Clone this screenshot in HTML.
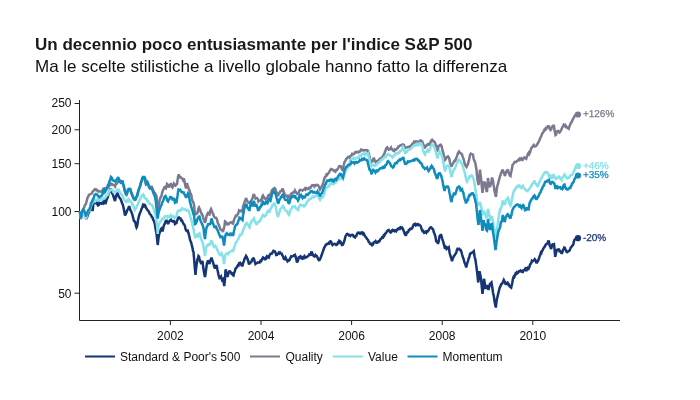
<!DOCTYPE html>
<html><head><meta charset="utf-8"><style>
html,body{margin:0;padding:0;background:#fff;}
svg{display:block}
text{font-family:"Liberation Sans",Arial,sans-serif;}
</style></head><body>
<svg width="700" height="400" viewBox="0 0 700 400">
<rect width="700" height="400" fill="#fff"/>
<text x="35" y="50" font-size="17" font-weight="bold" fill="#1a1a1a">Un decennio poco entusiasmante per l'indice S&amp;P 500</text>
<text x="35" y="72" font-size="17" fill="#111">Ma le scelte stilistiche a livello globale hanno fatto la differenza</text>
<g stroke="#222" stroke-width="1" fill="none">
<path d="M79.5,100 V320.5 H620"/>
<path d="M74.5,103.5 H79.5 M74.5,129.8 H79.5 M74.5,163.7 H79.5 M74.5,211.5 H79.5 M74.5,293.2 H79.5"/>
<path d="M170.4,320 V325 M261,320 V325 M351.6,320 V325 M442.2,320 V325 M532.8,320 V325"/>
</g>
<g font-size="12" fill="#111" text-anchor="end">
<text x="71.5" y="107">250</text><text x="71.5" y="133.5">200</text><text x="71.5" y="167.5">150</text><text x="71.5" y="215.5">100</text><text x="71.5" y="297.5">50</text>
</g>
<g font-size="12" fill="#111" text-anchor="middle">
<text x="170.4" y="340">2002</text><text x="261" y="340">2004</text><text x="351.6" y="340">2006</text><text x="442.2" y="340">2008</text><text x="532.8" y="340">2010</text>
</g>
<path d="M80.0,211.5 L80.8,219.0 L81.4,215.8 L82.0,214.0 L82.8,213.9 L83.5,212.5 L84.2,214.3 L85.0,215.0 L85.6,216.5 L86.2,219.0 L86.8,217.5 L87.5,216.0 L88.0,214.4 L88.5,213.0 L89.0,212.3 L89.5,211.0 L90.2,209.6 L91.0,207.0 L91.5,205.4 L92.0,205.5 L92.6,211.0 L93.3,204.5 L94.0,202.5 L94.8,201.3 L95.5,202.0 L96.0,202.9 L96.5,202.5 L97.2,203.9 L98.0,205.5 L98.7,205.2 L99.3,202.8 L100.0,203.0 L100.7,203.1 L101.3,203.8 L102.0,203.5 L102.7,202.3 L103.3,203.1 L104.0,201.5 L104.7,202.5 L105.3,200.9 L106.0,202.0 L106.8,199.1 L107.5,198.0 L108.2,195.3 L109.0,192.5 L109.8,191.4 L110.5,188.5 L111.2,190.5 L112.0,193.0 L112.8,194.2 L113.5,196.5 L114.2,198.6 L115.0,201.0 L115.8,197.1 L116.5,195.0 L117.0,193.7 L117.5,193.5 L118.2,195.1 L119.0,197.0 L119.8,198.0 L120.5,199.0 L121.2,200.5 L122.0,203.0 L122.8,204.7 L123.5,207.5 L124.2,210.9 L125.0,215.5 L125.8,213.9 L126.5,212.5 L127.2,210.3 L128.0,209.0 L128.8,207.0 L129.5,207.0 L130.2,209.7 L131.0,211.0 L131.8,213.1 L132.5,215.0 L133.2,218.3 L134.0,221.0 L134.8,221.4 L135.5,223.0 L136.0,226.2 L136.5,227.5 L137.0,226.5 L137.5,224.0 L138.0,220.2 L138.5,218.0 L139.2,215.2 L140.0,213.0 L140.8,211.4 L141.5,209.0 L142.2,207.4 L143.0,205.0 L143.7,205.9 L144.3,204.8 L145.0,205.0 L145.8,207.4 L146.5,208.5 L147.2,209.8 L148.0,210.5 L148.8,211.6 L149.5,213.5 L150.2,214.4 L151.0,215.0 L151.8,217.0 L152.5,217.5 L153.2,219.9 L154.0,221.0 L154.5,223.0 L155.0,225.0 L155.5,228.2 L156.0,231.0 L156.5,233.6 L157.0,238.0 L157.7,245.0 L158.5,238.0 L159.0,235.0 L159.5,233.0 L160.0,232.1 L160.5,230.0 L161.0,229.1 L161.5,228.5 L162.0,229.3 L162.5,231.5 L163.0,229.3 L163.5,227.0 L164.0,225.0 L164.8,223.7 L165.5,221.5 L166.0,221.1 L166.5,220.0 L167.2,221.7 L168.0,224.0 L168.8,222.4 L169.5,221.0 L170.2,220.3 L171.0,219.5 L171.8,221.1 L172.5,221.5 L173.2,221.3 L174.0,221.0 L174.5,222.3 L175.0,224.0 L175.8,223.5 L176.5,223.0 L177.0,220.6 L177.5,220.0 L178.2,217.8 L179.0,217.5 L179.8,218.4 L180.5,218.5 L181.2,220.5 L182.0,220.5 L182.8,222.4 L183.5,224.0 L184.0,224.3 L184.5,225.0 L185.0,226.3 L185.5,229.0 L186.0,230.0 L186.5,231.0 L187.0,231.2 L187.5,229.5 L188.0,231.8 L188.5,233.0 L189.0,235.1 L189.5,237.0 L190.0,239.7 L190.5,241.0 L191.0,242.0 L191.5,244.0 L192.0,246.0 L192.5,248.0 L193.0,250.9 L193.5,252.0 L194.2,259.8 L194.8,267.3 L195.5,275.0 L196.0,269.5 L196.5,265.0 L197.0,262.1 L197.5,259.0 L198.0,258.4 L198.5,256.0 L199.0,256.5 L199.5,259.0 L200.2,261.6 L201.0,263.0 L201.8,262.6 L202.5,261.0 L203.0,265.8 L203.5,269.0 L204.2,273.5 L205.0,277.0 L205.5,274.1 L206.0,270.0 L206.5,266.5 L207.0,263.0 L207.5,261.9 L208.0,260.5 L208.8,262.1 L209.5,264.0 L210.0,261.1 L210.5,260.0 L211.0,259.5 L211.5,257.5 L212.0,259.4 L212.5,261.0 L213.2,262.9 L214.0,266.0 L214.5,267.3 L215.0,268.5 L215.8,266.7 L216.5,265.0 L217.0,267.2 L217.5,270.0 L218.0,272.2 L218.5,275.0 L219.0,276.6 L219.5,278.0 L220.2,277.5 L221.0,276.5 L221.5,278.5 L222.0,280.0 L222.5,279.4 L223.0,279.0 L223.6,281.6 L224.2,286.0 L225.0,279.0 L225.5,269.5 L226.0,270.5 L226.5,272.5 L227.0,274.1 L227.5,277.0 L228.0,275.2 L228.5,273.0 L229.0,272.5 L229.5,270.5 L230.2,272.1 L231.0,272.5 L231.5,273.6 L232.0,273.5 L232.8,275.1 L233.5,275.5 L234.0,273.3 L234.5,272.0 L235.0,270.9 L235.5,268.5 L236.2,268.1 L237.0,267.0 L237.8,265.4 L238.5,265.5 L239.0,263.3 L239.5,263.0 L240.2,262.8 L241.0,264.5 L241.8,265.5 L242.5,265.5 L243.2,262.7 L244.0,261.0 L244.5,258.7 L245.0,258.0 L245.5,257.2 L246.0,256.0 L246.8,257.2 L247.5,259.0 L248.2,260.9 L249.0,264.5 L249.5,263.1 L250.0,263.0 L250.8,262.3 L251.5,261.5 L252.2,259.3 L253.0,258.5 L253.5,258.3 L254.0,259.0 L254.8,261.9 L255.5,264.0 L256.2,263.4 L257.0,263.0 L257.8,262.4 L258.5,262.5 L259.0,262.4 L259.5,262.5 L260.4,260.9 L261.2,261.2 L262.1,259.1 L263.0,257.5 L263.7,258.2 L264.3,258.5 L265.0,260.0 L265.7,258.0 L266.3,258.3 L267.0,256.2 L267.9,256.9 L268.8,257.5 L269.6,255.0 L270.5,253.8 L271.2,253.5 L271.8,253.6 L272.5,252.5 L273.4,250.9 L274.2,251.2 L274.9,251.5 L275.6,253.0 L276.2,255.0 L277.1,254.8 L278.0,253.8 L278.7,252.7 L279.3,253.3 L280.0,252.5 L280.9,253.5 L281.8,253.8 L282.4,255.5 L283.1,256.5 L283.8,258.8 L284.6,259.1 L285.5,257.5 L286.2,259.3 L286.8,260.0 L287.5,261.2 L288.2,260.3 L288.8,260.7 L289.5,260.0 L290.4,257.9 L291.2,256.2 L292.1,256.4 L293.0,256.2 L293.7,255.5 L294.3,255.7 L295.0,255.0 L295.7,256.6 L296.3,259.6 L297.0,262.5 L297.9,260.9 L298.8,257.5 L299.6,257.6 L300.5,256.2 L301.2,256.7 L301.8,258.6 L302.5,258.8 L303.2,257.5 L303.8,258.0 L304.5,256.2 L305.4,257.4 L306.2,257.5 L307.1,256.7 L308.0,256.2 L308.7,255.3 L309.3,254.4 L310.0,255.0 L310.7,254.9 L311.3,252.4 L312.0,252.5 L312.9,255.0 L313.8,256.2 L314.6,256.5 L315.5,255.0 L316.2,256.0 L316.8,256.0 L317.5,257.5 L318.2,259.1 L318.8,260.1 L319.5,260.0 L320.4,258.5 L321.2,256.2 L322.1,253.8 L323.0,251.2 L323.7,249.3 L324.3,247.6 L325.0,246.2 L325.7,244.8 L326.3,244.9 L327.0,243.8 L327.9,243.6 L328.8,243.8 L329.6,241.9 L330.5,241.2 L331.2,241.7 L331.8,244.1 L332.5,245.0 L333.2,244.2 L333.8,244.2 L334.5,243.8 L335.4,244.0 L336.2,245.0 L337.1,244.5 L338.0,242.5 L338.7,242.9 L339.3,240.7 L340.0,241.2 L340.7,241.9 L341.3,243.4 L342.0,245.0 L342.9,244.7 L343.8,242.5 L344.6,239.9 L345.5,236.2 L346.2,235.1 L346.8,234.0 L347.5,233.8 L348.2,234.5 L348.8,235.3 L349.5,235.0 L350.4,235.9 L351.2,235.0 L352.1,234.7 L353.0,235.0 L353.7,236.6 L354.3,237.0 L355.0,237.5 L355.7,236.2 L356.3,236.0 L357.0,233.8 L357.9,232.6 L358.8,232.5 L359.6,233.6 L360.5,233.8 L361.2,232.5 L361.8,232.3 L362.5,232.5 L363.2,234.2 L363.8,233.6 L364.5,235.0 L365.4,236.8 L366.2,237.5 L367.1,239.0 L368.0,240.0 L368.7,241.9 L369.3,242.2 L370.0,243.8 L370.9,244.1 L371.8,245.0 L372.4,243.7 L373.1,244.1 L373.8,242.5 L374.6,242.1 L375.5,241.2 L376.2,242.6 L376.8,242.9 L377.5,242.5 L378.2,241.4 L378.8,241.8 L379.5,241.2 L380.4,239.2 L381.2,238.8 L382.1,237.2 L383.0,237.5 L383.7,235.4 L384.3,235.7 L385.0,233.8 L385.7,233.5 L386.3,232.7 L387.0,231.2 L387.9,230.3 L388.8,230.0 L389.6,231.5 L390.5,232.5 L391.2,232.2 L391.8,230.6 L392.5,230.0 L393.2,230.6 L393.8,230.3 L394.5,231.2 L395.4,230.4 L396.2,231.2 L397.1,229.5 L398.0,228.8 L398.7,229.1 L399.3,228.0 L400.0,227.5 L400.7,228.4 L401.3,227.4 L402.0,227.5 L402.9,228.9 L403.8,231.2 L404.6,233.7 L405.5,235.0 L406.2,234.8 L406.8,232.4 L407.5,232.5 L408.2,232.0 L408.8,230.0 L409.5,230.0 L410.4,228.6 L411.2,228.8 L412.1,228.3 L413.0,226.2 L413.7,224.5 L414.3,224.1 L415.0,223.8 L415.7,225.1 L416.3,224.4 L417.0,225.0 L417.9,224.2 L418.8,225.0 L419.4,224.8 L420.1,225.3 L420.8,226.2 L421.6,229.2 L422.5,231.2 L423.3,230.9 L424.2,232.9 L425.0,232.5 L425.7,231.8 L426.3,232.6 L427.0,231.2 L427.9,231.4 L428.8,230.0 L429.6,228.3 L430.5,227.5 L431.2,227.4 L431.8,228.3 L432.5,228.8 L433.2,229.6 L433.8,232.4 L434.5,233.8 L435.4,236.6 L436.2,241.2 L437.1,241.5 L438.0,243.8 L438.8,241.0 L439.5,236.2 L440.4,235.2 L441.2,235.0 L442.1,238.3 L443.0,241.2 L443.7,243.6 L444.3,245.9 L445.0,248.8 L445.7,247.5 L446.3,248.7 L447.0,247.5 L447.9,248.4 L448.8,247.5 L449.6,252.8 L450.5,256.2 L451.2,258.0 L452.0,261.2 L452.9,258.2 L453.8,256.2 L454.6,255.2 L455.5,253.8 L456.2,253.0 L456.8,250.5 L457.5,248.8 L458.4,249.1 L459.2,248.8 L459.9,249.9 L460.6,249.9 L461.2,251.2 L462.1,254.5 L463.0,257.5 L463.8,259.6 L464.5,262.5 L465.4,264.5 L466.2,267.5 L467.1,263.5 L468.0,261.2 L468.7,258.3 L469.3,257.2 L470.0,253.8 L470.7,253.2 L471.3,253.2 L472.0,252.5 L472.9,252.2 L473.8,251.2 L474.6,256.5 L475.5,260.0 L476.2,265.4 L477.0,271.2 L477.6,276.5 L478.2,282.5 L478.9,276.5 L479.5,271.2 L480.2,274.6 L481.0,278.8 L481.8,286.9 L482.5,293.8 L483.2,287.0 L484.0,278.8 L484.8,283.4 L485.5,288.8 L486.2,286.5 L487.0,285.0 L487.8,287.6 L488.5,290.0 L489.2,287.0 L490.0,283.8 L490.8,283.3 L491.5,282.5 L492.2,287.0 L493.0,292.5 L493.8,295.9 L494.5,301.2 L495.1,303.9 L495.8,307.5 L496.4,302.3 L497.0,298.8 L497.9,295.1 L498.8,291.2 L499.6,287.9 L500.5,286.2 L501.2,284.2 L502.0,283.8 L502.9,282.1 L503.8,280.0 L504.6,281.5 L505.5,283.8 L506.2,283.9 L506.8,282.9 L507.5,282.5 L508.2,284.5 L508.8,284.3 L509.5,286.2 L510.4,286.9 L511.2,287.5 L512.1,283.7 L513.0,278.8 L513.7,276.7 L514.3,277.1 L515.0,275.0 L515.6,273.5 L516.2,273.8 L516.8,272.4 L517.6,273.1 L518.3,272.4 L519.1,271.1 L519.8,271.2 L520.6,270.6 L521.4,271.6 L522.2,271.8 L522.8,272.0 L523.4,270.2 L524.0,270.0 L524.8,270.2 L525.6,268.1 L526.4,268.2 L527.0,269.6 L527.6,268.5 L528.2,270.0 L528.8,267.8 L529.4,267.2 L530.0,264.6 L530.6,264.0 L531.2,263.0 L531.8,261.0 L532.4,261.5 L533.0,261.1 L533.6,260.4 L534.2,260.2 L534.8,259.2 L535.4,260.0 L536.0,261.9 L536.6,263.4 L537.2,261.5 L537.8,261.4 L538.4,259.8 L539.0,258.5 L539.6,256.1 L540.2,255.0 L540.8,252.7 L541.4,253.1 L542.0,250.8 L542.6,250.4 L543.2,248.9 L543.8,247.8 L544.4,246.9 L545.0,246.5 L545.6,244.8 L546.2,244.3 L546.8,243.8 L547.4,243.6 L548.0,241.8 L548.6,240.6 L549.2,242.8 L549.8,246.0 L550.4,246.5 L551.0,249.0 L551.6,247.2 L552.2,244.8 L552.8,244.4 L553.4,244.5 L554.0,244.2 L554.6,249.6 L555.2,256.8 L555.8,253.8 L556.4,251.4 L557.0,250.1 L557.6,249.5 L558.2,249.6 L558.8,249.5 L559.4,251.1 L560.0,250.8 L560.6,251.6 L561.2,252.6 L561.8,253.8 L562.4,252.2 L563.0,250.2 L563.6,248.9 L564.2,247.6 L564.8,247.8 L565.4,249.3 L566.0,250.6 L566.6,252.0 L567.2,252.1 L567.8,251.5 L568.4,251.4 L569.0,251.0 L569.6,250.3 L570.2,249.0 L570.8,247.5 L571.4,247.0 L572.0,246.0 L572.6,245.4 L573.2,244.8 L573.8,241.9 L574.4,240.0 L575.0,239.1 L575.6,238.8 L576.2,238.0 L577.1,238.8 L578.0,238.0" fill="none" stroke="#163574" stroke-width="2.5" stroke-linejoin="miter" stroke-miterlimit="2.5" stroke-linecap="butt"/>
<path d="M80.0,211.5 L80.5,215.4 L81.0,217.5 L81.8,215.4 L82.5,211.5 L83.2,208.9 L84.0,208.0 L84.8,205.4 L85.5,204.5 L86.0,203.7 L86.5,201.5 L87.0,200.0 L87.5,197.5 L88.2,196.8 L88.8,195.1 L89.5,194.5 L90.2,194.4 L90.8,194.0 L91.5,193.5 L92.2,192.8 L92.8,191.2 L93.5,191.0 L94.2,189.9 L95.0,189.0 L95.7,189.1 L96.3,190.1 L97.0,190.0 L97.7,191.3 L98.3,191.6 L99.0,191.0 L99.7,191.4 L100.3,191.6 L101.0,192.0 L101.8,191.0 L102.5,191.0 L103.2,188.8 L104.0,188.5 L104.8,188.3 L105.5,190.0 L106.2,189.4 L107.0,189.0 L107.8,187.6 L108.5,187.0 L109.2,185.8 L110.0,185.0 L110.5,185.0 L111.0,183.5 L111.5,183.8 L112.0,184.0 L112.8,184.6 L113.5,185.0 L114.2,185.2 L115.0,186.5 L115.8,184.3 L116.5,184.0 L117.2,182.7 L118.0,182.0 L118.8,181.0 L119.5,181.5 L120.2,182.3 L121.0,183.0 L121.8,183.0 L122.5,181.0 L123.0,183.6 L123.5,185.5 L124.2,188.1 L125.0,192.0 L125.8,194.3 L126.5,195.0 L127.2,193.1 L128.0,190.0 L128.7,190.0 L129.3,189.8 L130.0,188.5 L130.8,191.5 L131.5,193.5 L132.2,195.7 L132.8,196.5 L133.5,198.5 L134.2,199.8 L134.8,200.1 L135.5,199.5 L136.2,197.3 L137.0,196.5 L137.8,194.0 L138.5,190.5 L139.2,188.9 L140.0,186.5 L140.8,183.9 L141.5,181.5 L142.2,179.6 L143.0,177.5 L143.7,177.8 L144.3,179.0 L145.0,178.5 L145.5,181.5 L146.0,184.5 L146.8,184.2 L147.5,182.5 L148.2,184.5 L149.0,187.0 L149.8,188.0 L150.5,187.5 L151.0,187.5 L151.5,186.0 L152.2,187.6 L152.8,189.5 L153.5,191.0 L154.2,192.8 L155.0,193.0 L155.8,194.9 L156.5,196.0 L157.0,203.0 L157.8,210.0 L158.5,206.0 L159.0,203.5 L159.5,201.0 L160.0,199.0 L160.8,196.9 L161.5,196.0 L162.2,192.6 L163.0,190.0 L163.8,188.9 L164.5,187.0 L165.2,186.8 L166.0,188.0 L166.5,186.8 L167.0,184.0 L167.8,184.8 L168.5,186.5 L169.2,186.6 L170.0,185.0 L170.5,184.1 L171.0,184.0 L171.8,186.7 L172.5,187.5 L173.2,185.9 L174.0,183.5 L174.8,184.5 L175.5,185.5 L176.2,184.8 L177.0,184.0 L177.5,180.8 L178.0,177.0 L178.8,174.5 L179.4,176.2 L180.0,177.5 L180.8,177.4 L181.5,178.0 L182.2,178.4 L183.0,180.0 L183.5,179.3 L184.0,178.5 L184.5,182.1 L185.0,184.0 L185.5,186.5 L186.0,188.5 L186.5,184.9 L187.0,183.0 L187.5,185.4 L188.0,186.5 L188.8,189.0 L189.5,190.5 L190.2,193.1 L191.0,194.0 L191.5,195.9 L192.0,199.0 L192.5,201.0 L193.0,202.0 L193.5,202.6 L194.0,205.0 L194.5,210.3 L195.0,215.0 L195.7,214.0 L196.3,213.5 L197.0,213.5 L197.7,212.3 L198.3,208.7 L199.0,207.5 L199.8,209.3 L200.5,211.0 L201.2,213.2 L202.0,214.0 L202.8,216.0 L203.5,219.0 L204.2,220.4 L205.0,223.0 L205.8,220.3 L206.5,216.0 L207.2,214.3 L208.0,213.0 L208.8,214.2 L209.5,214.5 L210.2,210.8 L211.0,209.0 L211.8,210.7 L212.5,213.0 L213.2,214.1 L214.0,216.5 L214.8,217.6 L215.5,218.0 L216.2,217.9 L217.0,219.5 L217.8,222.9 L218.5,224.5 L219.2,225.6 L220.0,228.5 L220.8,229.7 L221.5,230.0 L222.2,230.0 L223.0,232.0 L223.5,229.5 L224.0,228.0 L224.5,225.4 L225.0,221.5 L225.8,222.1 L226.5,224.0 L227.2,223.6 L228.0,224.5 L228.8,224.1 L229.5,223.0 L230.2,222.5 L231.0,222.5 L231.8,222.1 L232.5,223.5 L233.0,223.7 L233.5,222.0 L234.2,219.1 L235.0,217.5 L235.8,215.8 L236.5,216.0 L237.2,214.7 L238.0,214.0 L238.5,212.5 L239.0,210.5 L239.8,211.2 L240.5,211.0 L241.2,210.5 L242.0,211.5 L242.7,208.7 L243.3,205.6 L244.0,204.0 L244.7,201.9 L245.3,200.5 L246.0,198.0 L246.8,200.0 L247.7,201.8 L248.5,202.5 L249.2,202.7 L249.8,202.6 L250.5,201.5 L251.2,200.9 L252.0,199.5 L252.7,197.6 L253.3,195.3 L254.0,194.0 L254.8,196.6 L255.5,198.5 L256.2,197.9 L257.0,198.0 L257.8,199.0 L258.5,201.5 L259.2,200.9 L260.0,200.5 L260.8,200.7 L261.5,199.5 L262.2,196.8 L263.0,195.5 L263.8,197.2 L264.5,198.5 L265.2,198.5 L266.0,199.0 L266.8,198.3 L267.5,197.5 L268.2,195.5 L269.0,195.0 L269.8,196.4 L270.5,196.0 L271.2,192.5 L272.0,190.0 L272.8,189.5 L273.7,188.5 L274.5,188.0 L275.2,188.5 L276.0,191.0 L276.7,192.8 L277.3,193.6 L278.0,196.0 L278.8,193.6 L279.5,193.0 L280.2,191.4 L280.8,191.0 L281.5,191.0 L282.2,189.4 L283.0,189.5 L283.8,192.0 L284.5,194.0 L285.2,195.0 L286.0,196.0 L286.8,196.5 L287.5,195.0 L288.2,197.1 L289.0,197.5 L289.8,197.2 L290.5,195.0 L291.2,193.5 L292.0,193.0 L292.7,192.7 L293.3,192.2 L294.0,192.5 L294.5,191.7 L295.0,190.5 L295.8,192.0 L296.5,193.0 L297.2,193.9 L298.0,193.5 L298.8,192.4 L299.5,190.5 L300.2,189.8 L301.0,190.0 L301.8,190.1 L302.5,190.5 L303.2,190.1 L304.0,189.5 L304.8,188.5 L305.5,189.5 L306.2,188.3 L307.0,189.0 L307.8,188.8 L308.5,189.0 L309.2,187.7 L310.0,188.0 L310.8,187.4 L311.5,186.0 L312.2,185.2 L313.0,185.5 L313.8,185.2 L314.5,186.5 L315.2,185.4 L316.0,185.5 L316.8,184.7 L317.5,185.0 L318.2,185.4 L319.0,187.0 L319.5,188.3 L320.0,189.5 L320.8,188.2 L321.5,187.0 L322.0,185.6 L322.5,185.0 L323.3,182.6 L324.2,179.1 L325.0,177.0 L325.8,176.6 L326.5,174.5 L327.2,174.9 L328.0,173.5 L328.8,173.0 L329.5,171.5 L330.2,170.1 L331.0,169.0 L331.8,169.3 L332.5,169.5 L333.2,170.4 L334.0,171.0 L334.8,170.4 L335.5,171.5 L336.2,170.6 L337.0,170.0 L337.8,168.8 L338.5,167.5 L339.2,166.1 L340.0,166.0 L340.8,166.2 L341.5,168.0 L342.0,169.6 L342.5,170.0 L343.0,167.7 L343.5,166.0 L344.0,164.0 L344.5,162.0 L345.2,161.3 L346.0,159.0 L346.8,158.5 L347.5,157.5 L348.2,156.8 L349.0,157.0 L349.5,157.7 L350.0,156.5 L350.8,155.7 L351.5,155.5 L352.2,153.8 L353.0,154.0 L353.8,154.1 L354.5,153.5 L355.2,152.2 L356.0,152.5 L356.8,151.9 L357.5,152.0 L358.2,152.4 L359.0,151.5 L359.8,151.6 L360.5,151.0 L361.2,149.5 L362.0,150.0 L362.8,150.2 L363.5,150.5 L364.2,150.1 L365.0,150.0 L365.8,150.2 L366.5,150.5 L367.2,150.2 L368.0,151.0 L368.5,153.2 L369.0,155.0 L369.5,156.4 L370.0,159.5 L370.8,160.3 L371.5,162.0 L372.0,161.2 L372.5,161.0 L373.0,160.6 L373.5,158.5 L374.0,158.4 L374.5,160.0 L375.0,161.5 L375.5,162.0 L376.2,161.1 L377.0,161.5 L377.8,160.9 L378.5,160.0 L379.2,159.3 L380.0,159.0 L380.8,158.2 L381.5,157.5 L382.2,157.3 L383.0,156.0 L383.8,154.5 L384.5,153.5 L385.0,151.5 L385.5,151.0 L386.0,148.7 L386.5,148.0 L387.2,147.4 L388.0,148.5 L388.8,149.7 L389.5,149.5 L390.2,148.8 L391.0,147.5 L391.8,149.4 L392.5,149.5 L393.2,150.6 L394.0,151.0 L394.8,149.5 L395.5,150.0 L396.2,149.6 L397.0,148.5 L397.8,148.1 L398.5,146.5 L399.2,146.4 L400.0,145.5 L400.8,145.2 L401.5,145.0 L402.2,144.5 L403.0,144.5 L403.5,144.7 L404.0,145.0 L404.5,147.1 L405.0,148.0 L405.8,147.3 L406.5,147.5 L407.2,147.3 L408.0,147.0 L408.8,146.7 L409.5,146.5 L410.2,146.9 L411.0,145.5 L411.8,145.1 L412.5,143.5 L413.2,143.6 L414.0,142.0 L414.5,142.7 L415.0,142.0 L415.8,141.3 L416.5,141.5 L417.2,141.5 L418.0,142.5 L418.8,142.0 L419.5,141.5 L420.2,140.5 L421.0,140.5 L421.8,141.1 L422.5,142.0 L423.2,144.4 L424.0,146.0 L424.5,147.6 L425.0,147.5 L425.8,146.4 L426.5,145.0 L427.2,145.1 L428.0,144.0 L428.8,143.9 L429.5,145.5 L430.0,143.5 L430.5,142.0 L431.0,142.0 L431.5,140.0 L432.2,139.8 L433.0,141.0 L433.8,141.3 L434.5,142.0 L435.0,142.4 L435.5,144.5 L436.0,145.7 L436.5,148.5 L437.0,150.3 L437.5,150.5 L438.0,149.2 L438.5,146.0 L439.2,145.8 L440.0,145.0 L440.8,144.8 L441.5,146.0 L442.0,147.8 L442.5,150.5 L443.2,152.7 L444.0,156.0 L444.5,158.3 L445.0,160.0 L445.8,159.1 L446.5,157.5 L447.2,156.9 L448.0,156.5 L448.5,157.3 L449.0,158.0 L449.5,159.5 L450.0,162.5 L450.5,164.3 L451.0,166.0 L451.8,165.9 L452.5,164.0 L453.2,163.3 L454.0,161.5 L454.5,160.9 L455.0,162.0 L455.5,160.3 L456.0,158.5 L456.8,156.9 L457.5,154.5 L458.2,152.5 L459.0,151.5 L459.8,153.0 L460.5,153.0 L461.2,153.7 L462.0,154.5 L462.5,156.4 L463.0,157.5 L463.5,158.8 L464.0,160.5 L464.5,163.2 L465.0,164.0 L465.8,166.1 L466.5,167.0 L467.2,165.6 L468.0,164.0 L468.5,161.5 L469.0,160.5 L469.5,157.6 L470.0,155.0 L470.8,153.6 L471.5,154.0 L472.2,154.4 L473.0,154.5 L473.5,158.0 L474.0,160.0 L474.8,161.4 L475.5,164.0 L476.0,167.0 L476.5,170.0 L477.0,175.0 L477.5,180.0 L478.0,182.3 L478.5,185.0 L479.0,180.4 L479.5,175.0 L480.0,169.5 L480.5,174.6 L481.0,178.0 L481.5,183.4 L482.0,188.0 L482.5,193.0 L483.0,187.2 L483.5,181.5 L484.2,183.2 L485.0,183.0 L485.5,185.7 L486.0,189.0 L486.5,191.0 L487.0,192.0 L487.5,185.3 L488.0,178.0 L488.5,181.5 L489.0,184.0 L489.5,186.2 L490.0,187.0 L490.5,184.9 L491.0,184.0 L491.5,181.0 L492.0,177.5 L492.5,179.1 L493.0,181.0 L493.5,184.3 L494.0,187.0 L494.5,191.0 L495.0,193.0 L495.5,195.3 L496.0,197.0 L496.8,189.0 L497.4,185.5 L498.0,184.0 L498.5,181.9 L499.0,180.0 L499.5,178.4 L500.0,176.0 L500.5,175.3 L501.0,173.0 L501.5,172.3 L502.0,171.0 L502.8,169.5 L503.3,171.9 L503.8,173.0 L504.3,173.5 L504.8,176.0 L505.3,174.9 L505.8,172.0 L506.4,171.7 L507.0,170.5 L507.5,170.2 L508.0,169.5 L508.5,172.3 L509.0,173.5 L509.8,175.5 L510.5,176.0 L511.0,172.7 L511.5,171.0 L512.0,168.6 L512.5,165.0 L513.2,164.5 L514.0,163.0 L514.8,161.9 L515.5,162.0 L516.2,162.0 L517.0,161.0 L517.8,160.7 L518.5,160.0 L519.2,159.0 L519.8,159.8 L520.5,158.8 L521.2,158.4 L521.8,159.8 L522.5,160.0 L523.2,159.0 L523.8,157.8 L524.5,157.5 L525.4,158.3 L526.2,158.8 L527.1,156.2 L528.0,153.8 L528.7,152.7 L529.3,153.9 L530.0,152.5 L530.7,150.0 L531.3,148.2 L532.0,147.5 L532.9,146.2 L533.8,145.0 L534.6,146.3 L535.5,146.2 L536.2,145.7 L536.8,145.1 L537.5,143.8 L538.2,142.5 L538.8,141.6 L539.5,140.0 L540.4,137.8 L541.2,136.2 L542.1,133.9 L543.0,132.5 L543.7,131.7 L544.3,129.9 L545.0,130.0 L545.7,128.3 L546.3,128.8 L547.0,127.5 L547.9,126.2 L548.8,126.2 L549.6,128.6 L550.5,130.0 L551.2,129.3 L551.8,127.3 L552.5,126.2 L553.1,126.0 L553.8,125.0 L554.6,130.6 L555.5,135.0 L556.2,134.5 L556.8,131.8 L557.5,131.2 L558.2,131.0 L558.8,131.8 L559.5,132.5 L560.4,131.2 L561.2,130.0 L562.1,127.7 L563.0,126.2 L563.7,124.9 L564.3,125.5 L565.0,125.0 L565.7,126.8 L566.3,126.4 L567.0,127.5 L567.9,128.2 L568.8,128.8 L569.6,126.0 L570.5,123.8 L571.2,122.4 L571.8,122.0 L572.5,120.0 L573.2,118.4 L573.8,117.8 L574.5,116.2 L575.4,115.0 L576.2,113.8 L577.1,114.2 L578.0,114.5" fill="none" stroke="#7b798f" stroke-width="2.5" stroke-linejoin="miter" stroke-miterlimit="2.5" stroke-linecap="butt"/>
<path d="M80.0,211.5 L80.8,219.0 L81.4,215.7 L82.0,213.5 L82.8,212.8 L83.5,212.0 L84.0,213.0 L84.5,214.5 L85.2,216.7 L86.0,218.5 L86.5,217.3 L87.0,215.5 L87.5,213.1 L88.0,212.5 L88.8,210.5 L89.5,210.5 L90.2,208.9 L91.0,206.0 L91.8,204.0 L92.5,203.0 L93.2,201.5 L94.0,201.0 L94.8,201.5 L95.5,200.0 L96.2,199.8 L96.8,200.3 L97.5,199.5 L98.2,199.6 L98.8,200.1 L99.5,200.0 L100.2,199.0 L100.8,199.6 L101.5,199.0 L102.2,199.6 L102.8,198.7 L103.5,198.5 L104.2,198.6 L104.8,198.2 L105.5,197.5 L106.2,195.6 L107.0,195.5 L107.8,194.8 L108.5,193.0 L109.2,191.9 L110.0,190.5 L110.8,189.6 L111.5,189.5 L112.2,189.6 L113.0,191.5 L113.8,192.5 L114.5,192.0 L115.2,191.4 L116.0,191.0 L116.8,190.7 L117.5,189.5 L118.0,190.0 L118.5,189.0 L119.2,190.9 L120.0,192.0 L120.8,194.1 L121.5,194.5 L122.2,195.3 L123.0,196.5 L123.8,198.9 L124.5,200.0 L125.2,200.9 L126.0,202.0 L126.8,201.9 L127.5,200.0 L128.2,200.9 L128.8,199.5 L129.5,200.5 L130.2,200.5 L131.0,202.0 L131.7,202.4 L132.3,204.9 L133.0,205.0 L133.8,207.4 L134.7,210.0 L135.3,209.3 L136.0,208.0 L136.8,206.1 L137.5,205.0 L138.2,203.3 L139.0,201.5 L139.8,199.8 L140.5,198.5 L141.2,196.7 L142.0,195.5 L142.6,195.2 L143.2,194.5 L143.8,195.8 L144.4,197.6 L145.0,198.0 L145.8,198.9 L146.5,199.0 L147.2,200.9 L148.0,201.0 L148.7,202.5 L149.3,203.6 L150.0,203.5 L150.8,204.6 L151.5,205.0 L152.2,205.3 L153.0,207.0 L153.8,209.7 L154.5,211.0 L155.0,213.9 L155.5,215.0 L156.0,218.8 L156.5,221.0 L157.2,227.0 L157.7,234.0 L158.3,227.0 L159.0,224.0 L159.5,223.1 L160.0,222.0 L160.8,221.4 L161.5,220.0 L162.2,218.9 L163.0,219.0 L163.8,218.4 L164.5,216.5 L165.2,216.4 L166.0,216.0 L166.8,216.3 L167.5,217.5 L168.2,216.1 L169.0,216.5 L169.8,216.7 L170.5,215.5 L171.2,217.2 L172.0,217.0 L172.8,215.9 L173.5,216.5 L174.2,217.6 L175.0,217.5 L175.8,216.6 L176.5,216.0 L177.0,213.3 L177.5,212.0 L178.0,210.8 L178.5,210.5 L179.2,210.8 L180.0,210.0 L180.8,210.5 L181.5,209.5 L182.2,208.3 L183.0,209.0 L183.8,209.5 L184.5,209.5 L185.2,209.1 L186.0,210.5 L186.8,210.7 L187.5,210.0 L188.2,210.4 L189.0,211.5 L189.5,214.0 L190.0,215.0 L190.5,217.7 L191.0,218.5 L191.5,220.5 L192.0,222.5 L192.5,225.7 L193.0,227.0 L193.5,229.1 L194.0,232.0 L194.5,234.2 L195.0,238.0 L195.8,236.7 L196.5,235.0 L197.2,234.6 L198.0,236.0 L198.8,234.1 L199.5,233.5 L200.0,235.1 L200.5,237.0 L201.2,239.2 L202.0,241.0 L202.8,243.1 L203.5,246.5 L204.2,250.3 L205.0,256.0 L205.5,252.7 L206.0,248.0 L206.8,246.1 L207.5,245.0 L208.2,245.2 L209.0,243.5 L209.5,244.8 L210.0,244.5 L210.8,242.3 L211.5,240.5 L212.0,241.9 L212.5,243.5 L213.2,245.3 L214.0,247.0 L214.8,246.8 L215.5,246.0 L216.2,247.7 L217.0,249.0 L217.8,250.9 L218.5,252.5 L219.2,254.0 L220.0,255.0 L220.8,255.1 L221.5,253.5 L222.2,255.0 L223.0,256.5 L223.5,260.1 L224.0,264.0 L224.5,260.7 L225.0,256.5 L225.5,254.7 L226.0,254.0 L226.8,253.4 L227.5,253.5 L228.2,254.0 L229.0,252.5 L229.8,252.0 L230.5,251.5 L231.2,251.1 L232.0,250.5 L232.5,250.3 L233.0,252.0 L233.5,249.8 L234.0,248.0 L234.5,246.7 L235.0,245.0 L235.8,242.5 L236.5,242.0 L237.2,240.7 L238.0,239.0 L238.8,237.8 L239.5,236.0 L240.2,234.6 L241.0,235.0 L241.8,233.8 L242.5,232.0 L243.2,229.9 L244.0,228.0 L244.8,226.6 L245.5,224.5 L246.0,223.5 L246.5,223.0 L247.2,224.2 L248.0,224.5 L248.8,226.5 L249.5,227.5 L250.2,224.3 L251.0,223.0 L251.8,220.6 L252.5,220.0 L253.2,219.6 L254.0,218.5 L254.8,221.4 L255.5,222.5 L256.0,223.3 L256.5,225.0 L257.2,223.4 L258.0,222.0 L258.8,221.9 L259.5,221.5 L260.0,220.4 L260.5,220.0 L261.3,218.1 L262.2,216.3 L263.0,215.0 L263.8,215.5 L264.5,216.5 L265.2,215.9 L266.0,215.0 L266.7,213.3 L267.3,212.1 L268.0,211.0 L268.8,212.0 L269.5,212.0 L270.2,209.3 L271.0,208.5 L271.8,206.9 L272.5,205.0 L273.2,204.7 L274.0,203.5 L274.8,204.4 L275.5,206.0 L276.0,207.9 L276.5,211.0 L277.2,214.6 L278.0,217.0 L278.8,214.0 L279.5,212.0 L280.2,209.6 L281.0,208.5 L281.7,207.5 L282.3,207.2 L283.0,206.0 L283.8,207.0 L284.5,209.5 L285.2,209.9 L286.0,211.0 L286.8,211.2 L287.5,212.0 L288.2,214.2 L289.0,215.0 L289.8,212.4 L290.5,210.0 L291.2,209.5 L292.0,207.5 L292.7,206.5 L293.3,206.5 L294.0,206.5 L294.5,206.8 L295.0,206.5 L295.8,208.3 L296.5,208.5 L297.2,209.2 L298.0,210.0 L298.8,207.5 L299.5,206.0 L300.2,204.7 L301.0,205.0 L301.8,205.3 L302.5,205.5 L303.2,205.4 L304.0,206.5 L304.8,206.1 L305.5,204.5 L306.2,203.9 L307.0,202.0 L307.8,200.6 L308.5,200.5 L309.2,199.3 L310.0,199.0 L310.8,198.9 L311.5,197.5 L312.2,197.3 L313.0,196.5 L313.8,197.4 L314.5,197.0 L315.2,196.2 L316.0,196.0 L316.8,195.0 L317.5,195.5 L318.2,196.1 L319.0,197.5 L319.5,199.3 L320.0,200.0 L320.8,198.5 L321.5,198.0 L322.2,197.2 L323.0,197.0 L323.8,195.1 L324.5,193.5 L325.0,190.0 L325.8,188.8 L326.5,188.0 L327.2,187.1 L328.0,186.5 L328.8,186.6 L329.5,185.0 L330.2,183.8 L331.0,184.0 L331.8,182.5 L332.5,183.0 L333.2,184.1 L334.0,183.5 L334.8,183.3 L335.5,181.5 L336.2,182.0 L337.0,180.5 L337.8,179.6 L338.5,179.0 L339.2,179.2 L340.0,177.5 L340.8,178.4 L341.5,177.5 L342.2,177.7 L343.0,179.0 L343.5,177.5 L344.0,175.0 L344.5,174.2 L345.0,172.0 L345.8,170.8 L346.5,169.0 L347.2,168.3 L348.0,167.5 L348.8,166.3 L349.5,166.0 L350.0,160.5 L350.8,159.7 L351.5,159.5 L352.2,158.7 L353.0,159.0 L353.8,157.9 L354.5,158.5 L355.2,158.7 L356.0,158.5 L356.8,157.6 L357.5,157.5 L358.2,157.9 L359.0,157.0 L359.8,155.3 L360.5,155.5 L361.2,155.6 L362.0,154.0 L362.8,154.1 L363.5,153.5 L364.2,154.3 L365.0,153.5 L365.8,154.3 L366.5,153.5 L367.2,154.3 L368.0,153.5 L368.5,155.9 L369.0,158.0 L369.5,159.5 L370.0,163.0 L370.8,165.0 L371.5,166.0 L372.2,164.6 L373.0,164.5 L373.8,164.8 L374.5,166.0 L375.2,165.8 L376.0,165.0 L376.8,164.5 L377.5,164.0 L378.2,162.8 L379.0,162.0 L379.8,162.1 L380.5,160.5 L381.2,160.2 L382.0,159.5 L382.8,158.7 L383.5,158.5 L384.2,157.3 L385.0,157.0 L385.8,156.7 L386.5,155.0 L387.2,154.5 L388.0,154.0 L388.8,155.1 L389.5,155.0 L390.2,155.2 L391.0,156.0 L391.8,156.1 L392.5,157.5 L393.2,156.6 L394.0,155.5 L394.8,155.4 L395.5,154.0 L396.2,153.1 L397.0,153.5 L397.8,153.6 L398.5,152.5 L399.2,152.6 L400.0,151.0 L400.8,151.1 L401.5,150.0 L402.0,149.6 L402.5,148.0 L403.0,146.8 L403.5,147.5 L404.0,149.8 L404.5,151.5 L405.0,153.0 L405.5,153.0 L406.2,151.3 L407.0,151.5 L407.8,150.3 L408.5,150.0 L409.2,149.3 L410.0,149.5 L410.8,148.8 L411.5,148.0 L412.2,147.1 L413.0,146.5 L413.8,145.7 L414.5,145.0 L415.0,145.0 L415.8,145.6 L416.5,145.0 L417.2,144.0 L418.0,145.0 L418.8,143.9 L419.5,144.5 L420.2,143.3 L421.0,143.5 L421.5,143.7 L422.0,145.5 L422.5,146.6 L423.0,149.5 L423.5,151.7 L424.0,152.0 L424.5,154.0 L425.0,154.5 L425.5,152.4 L426.0,152.0 L426.8,151.0 L427.5,150.0 L428.0,150.9 L428.5,152.5 L429.2,150.4 L430.0,149.0 L430.5,147.2 L431.0,146.0 L431.5,145.5 L432.0,144.5 L432.8,145.4 L433.5,146.0 L434.0,146.5 L434.5,147.5 L435.0,148.6 L435.5,151.0 L436.0,152.7 L436.5,155.0 L437.0,156.0 L437.5,158.5 L438.0,156.1 L438.5,153.5 L439.0,152.9 L439.5,151.5 L440.2,152.8 L441.0,154.5 L441.5,154.7 L442.0,156.5 L442.5,158.1 L443.0,161.0 L443.5,163.2 L444.0,166.0 L444.5,169.0 L445.0,171.5 L445.5,169.8 L446.0,167.0 L446.5,166.3 L447.0,166.0 L447.8,165.9 L448.5,164.5 L449.0,166.5 L449.5,168.0 L450.0,170.1 L450.5,172.5 L451.0,174.5 L451.5,177.0 L452.0,175.2 L452.5,173.5 L453.0,172.2 L453.5,170.0 L454.0,169.3 L454.5,169.0 L455.2,167.6 L456.0,165.5 L456.8,163.7 L457.5,162.0 L458.2,160.2 L459.0,159.5 L459.8,160.6 L460.5,161.5 L461.2,163.1 L462.0,164.0 L462.5,164.6 L463.0,167.0 L463.5,168.6 L464.0,170.5 L464.5,171.9 L465.0,173.5 L465.5,176.5 L466.0,178.0 L466.5,180.6 L467.0,181.5 L467.5,180.0 L468.0,179.0 L468.8,178.5 L469.5,176.5 L470.2,176.6 L471.0,175.5 L471.8,175.5 L472.5,176.5 L473.0,177.7 L473.5,179.0 L474.0,180.5 L474.5,183.5 L475.0,187.4 L475.5,190.0 L476.0,192.8 L476.5,195.0 L477.0,201.5 L477.5,204.0 L478.0,205.0 L478.5,204.8 L479.0,203.5 L479.5,203.1 L480.0,202.0 L480.5,204.5 L481.0,206.0 L481.5,208.6 L482.0,211.0 L482.5,211.7 L483.0,214.0 L483.5,213.7 L484.0,213.0 L484.5,212.3 L485.0,213.5 L485.5,214.8 L486.0,217.5 L486.5,217.5 L487.0,216.5 L487.5,211.8 L488.0,209.0 L488.5,210.7 L489.0,214.0 L489.5,215.7 L490.0,219.0 L490.5,219.3 L491.0,218.0 L491.5,216.9 L492.0,217.0 L492.5,218.5 L493.0,222.0 L493.5,225.7 L494.0,228.0 L494.5,229.7 L495.0,233.0 L495.7,237.5 L496.4,233.0 L497.0,228.0 L497.5,225.7 L498.0,222.0 L498.5,218.8 L499.0,215.0 L499.5,212.9 L500.0,209.5 L500.5,209.7 L501.0,208.0 L501.5,206.7 L502.0,205.0 L502.8,200.5 L503.3,202.6 L503.8,203.5 L504.3,203.3 L504.8,205.0 L505.3,203.3 L505.8,200.5 L506.4,199.8 L507.0,199.0 L507.5,198.9 L508.0,198.0 L508.5,199.2 L509.0,202.0 L509.8,204.2 L510.5,205.5 L511.0,204.4 L511.5,201.5 L512.0,198.4 L512.5,197.0 L513.0,194.1 L513.5,192.0 L514.2,190.6 L515.0,189.0 L515.8,188.7 L516.5,187.0 L517.2,186.2 L518.0,186.5 L518.8,185.4 L519.5,185.5 L520.0,187.0 L520.8,187.0 L521.5,188.0 L522.2,187.2 L523.0,186.0 L523.8,187.8 L524.5,188.5 L525.2,189.3 L526.0,190.5 L526.8,190.5 L527.5,191.0 L528.2,190.0 L529.0,189.5 L529.8,188.0 L530.5,187.0 L531.2,185.8 L532.0,185.0 L532.8,182.9 L533.5,182.5 L534.0,181.5 L534.5,180.5 L535.0,182.9 L535.5,183.5 L536.2,184.3 L537.0,185.5 L537.5,186.2 L538.0,186.0 L538.8,183.3 L539.5,182.0 L540.2,180.6 L541.0,178.5 L541.8,177.8 L542.5,176.0 L543.2,175.1 L544.0,173.5 L544.8,172.8 L545.5,172.0 L546.2,172.0 L547.0,172.0 L547.8,173.5 L548.5,174.5 L549.0,176.8 L549.5,177.5 L550.0,175.8 L550.5,175.5 L551.2,176.2 L552.0,178.5 L552.8,176.7 L553.5,174.0 L554.0,176.1 L554.5,176.5 L555.2,177.8 L556.0,179.0 L556.8,178.1 L557.5,177.5 L558.2,177.4 L559.0,176.5 L559.5,176.9 L560.0,178.5 L560.8,178.8 L561.5,180.0 L562.2,177.9 L563.0,177.0 L563.8,175.9 L564.5,174.5 L565.0,175.1 L565.5,176.5 L566.2,177.0 L567.0,178.5 L567.8,178.4 L568.5,177.5 L569.2,177.7 L570.0,176.0 L570.8,175.1 L571.5,175.0 L572.2,174.7 L573.0,173.5 L573.5,172.1 L574.0,171.0 L574.5,170.2 L575.0,168.0 L575.8,167.4 L576.5,166.5 L577.2,165.8 L578.0,166.0" fill="none" stroke="#86e2e9" stroke-width="2.5" stroke-linejoin="miter" stroke-miterlimit="2.5" stroke-linecap="butt"/>
<path d="M80.0,211.5 L80.8,218.5 L81.4,214.7 L82.0,212.0 L82.8,210.2 L83.5,210.0 L84.2,211.0 L85.0,212.5 L85.5,213.8 L86.0,216.5 L86.5,214.1 L87.0,213.5 L87.8,211.6 L88.5,210.0 L89.2,209.6 L90.0,207.5 L90.5,205.9 L91.0,203.0 L91.8,202.3 L92.5,200.5 L93.0,198.9 L93.5,198.5 L94.0,196.8 L94.5,195.0 L95.2,194.4 L95.8,194.0 L96.5,194.5 L97.2,194.5 L97.8,195.6 L98.5,197.0 L99.2,197.5 L99.8,197.0 L100.5,196.0 L101.2,196.1 L101.8,195.6 L102.5,194.5 L103.2,191.6 L104.0,190.0 L104.5,190.6 L105.0,192.0 L105.8,190.5 L106.5,188.5 L107.2,187.2 L108.0,185.0 L108.8,183.7 L109.5,181.0 L110.2,179.8 L111.0,177.0 L111.8,177.7 L112.5,180.0 L113.2,180.5 L114.0,180.5 L114.8,181.3 L115.5,181.5 L116.2,180.3 L117.0,179.0 L117.8,177.9 L118.5,178.0 L119.0,179.4 L119.5,181.0 L120.2,180.9 L121.0,182.5 L121.8,182.4 L122.5,180.5 L123.0,183.5 L123.5,185.0 L124.2,188.3 L125.0,191.5 L125.8,192.6 L126.5,194.5 L127.2,192.8 L128.0,189.5 L128.7,189.1 L129.3,189.3 L130.0,188.0 L130.8,191.2 L131.5,193.0 L132.2,194.7 L132.8,196.2 L133.5,198.0 L134.2,198.5 L134.8,198.5 L135.5,199.0 L136.2,196.8 L137.0,196.0 L137.8,192.6 L138.5,190.0 L139.2,188.6 L140.0,186.0 L140.8,182.6 L141.5,181.0 L142.2,178.1 L143.0,177.0 L143.7,177.6 L144.3,177.2 L145.0,178.0 L145.5,181.1 L146.0,184.0 L146.8,182.9 L147.5,182.0 L148.2,183.9 L149.0,186.5 L149.8,188.5 L150.5,188.5 L151.2,188.4 L152.0,189.5 L152.8,191.3 L153.5,193.5 L154.2,194.7 L155.0,197.0 L155.8,201.0 L156.5,208.0 L157.2,214.0 L157.7,218.5 L158.3,214.0 L159.0,211.0 L159.5,209.8 L160.0,208.0 L160.8,206.1 L161.5,205.0 L162.2,202.7 L163.0,201.0 L163.5,200.0 L164.0,198.0 L164.8,196.6 L165.5,196.0 L166.0,197.1 L166.5,198.0 L167.2,200.6 L168.0,201.5 L168.8,199.5 L169.5,199.0 L170.2,197.1 L171.0,197.0 L171.8,197.7 L172.5,199.5 L173.2,199.3 L174.0,198.0 L174.5,200.5 L175.0,202.5 L175.8,201.7 L176.5,202.0 L177.0,198.7 L177.5,196.0 L178.0,192.1 L178.5,189.5 L179.0,189.7 L179.5,190.0 L180.2,189.8 L181.0,191.5 L181.8,192.1 L182.5,192.0 L183.0,192.5 L183.5,191.5 L184.0,193.7 L184.5,194.0 L185.2,196.0 L186.0,197.0 L186.8,196.7 L187.5,194.5 L188.0,193.3 L188.5,194.0 L189.0,196.1 L189.5,199.0 L190.0,202.2 L190.5,203.5 L191.0,206.1 L191.5,207.5 L192.2,209.6 L193.0,212.0 L193.5,214.4 L194.0,215.0 L194.5,219.7 L195.0,224.0 L195.8,223.6 L196.5,222.0 L197.2,219.6 L198.0,218.0 L198.8,216.6 L199.5,216.5 L200.0,218.6 L200.5,221.0 L201.2,221.8 L202.0,224.0 L202.8,225.8 L203.5,228.0 L204.2,234.4 L205.0,239.0 L205.5,234.2 L206.0,230.0 L206.8,227.0 L207.5,226.0 L208.2,224.1 L209.0,224.0 L209.5,223.8 L210.0,225.0 L210.8,222.3 L211.5,218.5 L212.2,220.7 L213.0,223.5 L213.8,225.3 L214.5,228.0 L215.2,226.4 L216.0,226.5 L216.8,229.2 L217.5,230.0 L218.2,231.8 L219.0,234.0 L219.8,235.4 L220.5,238.0 L221.2,236.4 L222.0,236.5 L222.5,236.9 L223.0,239.0 L223.5,241.6 L224.0,245.5 L224.5,242.1 L225.0,238.0 L225.5,235.3 L226.0,234.0 L226.8,233.3 L227.5,234.5 L228.2,234.7 L229.0,235.0 L229.8,233.7 L230.5,233.5 L231.2,234.7 L232.0,234.0 L232.5,234.2 L233.0,236.0 L233.5,233.6 L234.0,231.0 L234.5,229.3 L235.0,226.5 L235.8,225.3 L236.5,224.5 L237.2,224.2 L238.0,222.0 L238.8,219.7 L239.5,217.5 L240.2,217.7 L241.0,219.0 L241.8,219.3 L242.5,220.0 L243.0,215.6 L243.5,213.0 L244.2,209.3 L245.0,206.0 L245.8,204.7 L246.5,204.5 L247.2,207.3 L248.0,208.5 L248.8,209.9 L249.5,210.0 L250.2,206.2 L251.0,202.5 L251.8,203.6 L252.5,206.5 L253.2,203.3 L254.0,201.0 L254.5,203.2 L255.0,206.5 L255.8,205.2 L256.5,205.0 L257.2,207.0 L258.0,210.0 L258.8,210.0 L259.5,208.5 L260.2,206.8 L261.0,206.5 L261.7,204.1 L262.3,204.4 L263.0,202.0 L263.8,203.1 L264.5,204.0 L265.2,203.7 L266.0,201.5 L266.8,202.1 L267.5,203.0 L268.2,201.3 L269.0,198.0 L269.8,199.6 L270.5,200.5 L271.2,197.8 L272.0,194.0 L272.8,193.0 L273.5,191.0 L274.2,192.0 L275.0,193.0 L275.8,194.4 L276.5,197.5 L277.2,199.9 L278.0,203.5 L278.8,202.2 L279.5,199.5 L280.2,199.0 L281.0,197.0 L281.7,197.0 L282.3,195.0 L283.0,194.5 L283.8,196.8 L284.5,198.5 L285.2,199.8 L286.0,200.0 L286.8,200.0 L287.5,199.5 L288.2,202.4 L289.0,204.0 L289.8,201.3 L290.5,198.5 L291.2,197.8 L292.0,196.5 L292.7,196.7 L293.3,195.7 L294.0,196.0 L294.5,196.6 L295.0,195.5 L295.8,197.9 L296.5,198.5 L297.2,198.6 L298.0,200.5 L298.8,198.9 L299.5,195.5 L300.2,196.2 L301.0,195.0 L301.8,196.8 L302.5,198.0 L303.2,196.8 L304.0,197.5 L304.8,197.5 L305.5,196.0 L306.2,194.5 L307.0,194.5 L307.8,194.9 L308.5,193.5 L309.2,193.3 L310.0,192.5 L310.8,191.1 L311.5,191.5 L312.2,191.3 L313.0,192.5 L313.8,192.5 L314.5,192.0 L315.2,192.6 L316.0,193.0 L316.8,192.7 L317.5,191.5 L318.2,193.4 L319.0,193.5 L319.5,194.4 L320.0,196.5 L320.8,194.0 L321.5,193.5 L322.2,192.8 L323.0,190.5 L323.8,187.8 L324.5,187.0 L325.0,184.5 L325.8,184.0 L326.5,182.0 L327.2,180.5 L328.0,180.5 L328.8,180.9 L329.5,180.0 L330.2,180.3 L331.0,179.5 L331.8,180.5 L332.5,180.0 L333.0,180.9 L333.5,181.5 L334.2,181.0 L335.0,179.0 L335.8,178.7 L336.5,179.5 L337.2,178.3 L338.0,176.5 L338.8,175.2 L339.5,174.5 L340.0,174.5 L340.5,173.0 L341.0,174.8 L341.5,175.5 L342.2,176.4 L343.0,177.5 L343.5,175.3 L344.0,173.0 L344.5,170.3 L345.0,169.5 L345.8,167.3 L346.5,167.0 L347.2,166.2 L348.0,165.0 L348.8,164.7 L349.5,164.5 L350.0,164.5 L350.8,164.0 L351.5,162.0 L352.2,162.5 L353.0,162.5 L353.8,162.3 L354.5,163.5 L355.2,162.5 L356.0,162.0 L356.8,162.8 L357.5,162.5 L358.2,162.0 L359.0,161.5 L359.8,160.0 L360.5,160.5 L361.2,160.4 L362.0,159.0 L362.8,159.7 L363.5,159.0 L364.2,158.4 L365.0,159.5 L365.8,159.8 L366.5,160.0 L367.0,160.3 L367.5,161.0 L368.0,164.1 L368.5,166.0 L369.0,167.4 L369.5,169.5 L370.0,169.5 L370.5,170.5 L371.0,172.0 L371.5,173.5 L372.0,173.2 L372.5,171.0 L373.2,169.9 L374.0,170.5 L374.8,170.7 L375.5,172.5 L376.2,171.7 L377.0,170.5 L377.8,171.0 L378.5,170.0 L379.2,169.3 L380.0,168.5 L380.8,168.1 L381.5,168.0 L382.2,168.2 L383.0,167.0 L383.8,167.8 L384.5,167.5 L385.2,165.4 L386.0,165.0 L386.8,164.0 L387.5,161.5 L388.2,161.1 L389.0,162.0 L389.8,162.9 L390.5,164.5 L391.2,166.2 L392.0,166.5 L392.5,166.8 L393.0,167.5 L393.8,166.6 L394.5,164.5 L395.2,163.1 L396.0,163.0 L396.8,163.2 L397.5,162.0 L398.2,160.6 L399.0,160.5 L399.8,159.5 L400.5,160.0 L401.2,159.2 L402.0,158.5 L402.8,157.9 L403.5,158.0 L404.0,160.1 L404.5,162.0 L405.0,163.8 L405.5,164.0 L406.2,163.9 L407.0,163.0 L407.8,161.5 L408.5,162.0 L409.2,161.4 L410.0,161.5 L410.8,161.3 L411.5,161.0 L412.2,160.5 L413.0,160.0 L413.8,160.7 L414.5,160.5 L415.0,159.0 L415.8,159.0 L416.5,159.0 L417.2,158.9 L418.0,160.5 L418.8,160.5 L419.5,161.5 L420.2,162.9 L421.0,163.0 L421.8,164.2 L422.5,166.0 L423.2,167.3 L424.0,167.5 L424.8,169.0 L425.5,168.5 L426.2,168.3 L427.0,167.5 L427.8,169.6 L428.5,171.0 L429.2,170.2 L430.0,169.0 L430.8,167.1 L431.5,166.0 L432.0,167.3 L432.5,167.0 L433.2,168.2 L434.0,169.5 L434.8,172.8 L435.5,174.5 L436.2,176.4 L437.0,179.0 L437.8,177.2 L438.5,174.0 L439.0,173.8 L439.5,172.5 L440.2,174.0 L441.0,175.0 L441.5,176.9 L442.0,179.0 L442.5,180.8 L443.0,184.0 L443.8,188.0 L444.5,191.0 L445.0,188.7 L445.5,187.0 L446.2,187.1 L447.0,186.5 L447.8,186.5 L448.5,188.0 L449.0,189.7 L449.5,193.0 L450.0,194.8 L450.5,198.0 L451.0,200.6 L451.5,202.0 L452.0,198.9 L452.5,197.0 L453.2,195.6 L454.0,192.5 L454.5,193.5 L455.0,195.0 L455.5,193.7 L456.0,192.0 L456.8,189.5 L457.5,187.5 L458.2,187.2 L459.0,186.5 L459.8,187.4 L460.5,190.0 L461.2,189.3 L462.0,189.0 L462.5,191.4 L463.0,192.0 L463.5,193.4 L464.0,196.0 L464.5,198.3 L465.0,200.0 L465.5,201.4 L466.0,203.5 L466.5,201.9 L467.0,201.0 L467.5,199.3 L468.0,199.5 L468.8,196.3 L469.5,195.0 L470.2,195.4 L471.0,194.0 L471.8,193.9 L472.5,192.5 L473.2,194.4 L474.0,195.0 L474.5,197.6 L475.0,199.0 L475.5,201.9 L476.0,203.0 L476.5,208.0 L477.0,212.3 L477.5,218.0 L478.0,221.7 L478.5,225.0 L479.0,220.0 L479.5,215.0 L480.0,210.0 L480.5,214.1 L481.0,218.0 L481.5,222.9 L482.0,226.0 L482.5,231.0 L483.0,226.0 L483.5,220.0 L484.2,222.9 L485.0,224.0 L485.5,225.7 L486.0,229.0 L486.5,230.1 L487.0,230.5 L487.5,225.1 L488.0,219.0 L488.5,222.5 L489.0,225.0 L489.5,227.7 L490.0,230.0 L490.5,228.2 L491.0,225.0 L491.5,224.1 L492.0,224.0 L492.5,228.0 L493.0,232.4 L493.5,235.0 L494.0,238.3 L494.5,242.0 L495.0,246.2 L495.5,250.0 L496.0,246.8 L496.5,242.0 L497.0,239.4 L497.5,236.0 L498.0,233.1 L498.5,231.0 L499.2,229.0 L500.0,228.0 L500.5,224.7 L501.0,222.0 L501.5,221.8 L502.0,221.0 L502.8,215.0 L503.3,217.7 L503.8,218.5 L504.3,221.0 L504.8,222.0 L505.3,219.3 L505.8,217.0 L506.4,215.8 L507.0,215.0 L507.5,215.4 L508.0,214.5 L508.5,215.1 L509.0,216.5 L509.8,217.3 L510.5,218.5 L511.0,215.8 L511.5,215.0 L512.0,211.9 L512.5,210.0 L513.2,208.6 L514.0,207.0 L514.8,206.6 L515.5,205.5 L516.2,205.2 L517.0,204.5 L517.8,204.5 L518.5,205.0 L519.2,206.2 L520.0,205.5 L520.8,207.0 L521.5,208.0 L522.2,205.8 L523.0,205.0 L523.8,205.9 L524.5,208.5 L525.0,210.2 L525.5,210.0 L526.2,209.7 L527.0,207.5 L527.8,209.3 L528.5,209.5 L529.0,206.7 L529.5,203.5 L530.2,201.6 L531.0,200.5 L531.8,198.7 L532.5,198.5 L533.2,196.8 L534.0,196.0 L534.5,195.4 L535.0,196.0 L535.5,198.4 L536.0,199.0 L536.8,199.0 L537.5,197.5 L538.2,196.8 L539.0,195.0 L539.8,193.0 L540.5,192.5 L541.2,190.2 L542.0,189.0 L542.8,186.8 L543.5,185.5 L544.0,185.4 L544.5,183.5 L545.2,181.8 L546.0,181.5 L546.8,181.6 L547.5,180.5 L548.2,180.6 L549.0,180.0 L549.5,181.8 L550.0,183.5 L550.8,183.9 L551.5,182.5 L552.2,181.8 L553.0,182.0 L553.8,183.0 L554.5,184.0 L555.0,185.8 L555.5,189.0 L556.0,186.9 L556.5,186.5 L557.2,186.3 L558.0,188.0 L558.8,187.4 L559.5,187.5 L560.2,187.2 L561.0,188.5 L561.8,187.9 L562.5,189.0 L563.0,188.2 L563.5,185.5 L564.0,184.6 L564.5,184.5 L565.0,186.8 L565.5,187.5 L566.2,188.9 L567.0,189.5 L567.8,189.5 L568.5,188.5 L569.2,188.3 L570.0,187.5 L570.5,187.7 L571.0,186.0 L571.5,185.5 L572.0,183.5 L572.8,183.2 L573.5,182.0 L574.0,180.6 L574.5,179.0 L575.2,178.1 L576.0,176.5 L576.8,176.4 L577.5,175.5 L578.0,175.5" fill="none" stroke="#0f8cbe" stroke-width="2.5" stroke-linejoin="miter" stroke-miterlimit="2.5" stroke-linecap="butt"/>

<g font-size="12" fill="#111">
<path d="M85,356.5 H115" stroke="#163574" stroke-width="2"/><text x="120" y="360.7">Standard &amp; Poor's 500</text>
<path d="M250,356.5 H280" stroke="#7b798f" stroke-width="2"/><text x="285.5" y="360.7">Quality</text>
<path d="M332.8,356.5 H362.8" stroke="#86e2e9" stroke-width="2"/><text x="368" y="360.7">Value</text>
<path d="M407.5,356.5 H437.5" stroke="#0f8cbe" stroke-width="2"/><text x="442.6" y="360.7">Momentum</text>
</g>
<g font-size="10" style="text-rendering:geometricPrecision">
<circle cx="578" cy="114.5" r="3.1" fill="#7b798f"/><text x="582.9" y="117.1" fill="#7b798f" stroke="#7b798f" stroke-width="0.25">+126%</text>
<circle cx="578" cy="166" r="3.1" fill="#86e2e9"/><text x="582.9" y="168.7" fill="#86e2e9" stroke="#86e2e9" stroke-width="0.25">+46%</text>
<circle cx="578" cy="175.5" r="3.1" fill="#0f8cbe"/><text x="582.9" y="178.1" fill="#0f8cbe" stroke="#0f8cbe" stroke-width="0.25">+35%</text>
<circle cx="578" cy="238.2" r="3.1" fill="#163574"/><text x="582.9" y="241" fill="#163574" stroke="#163574" stroke-width="0.25">-20%</text>
</g>
</svg>
</body></html>
